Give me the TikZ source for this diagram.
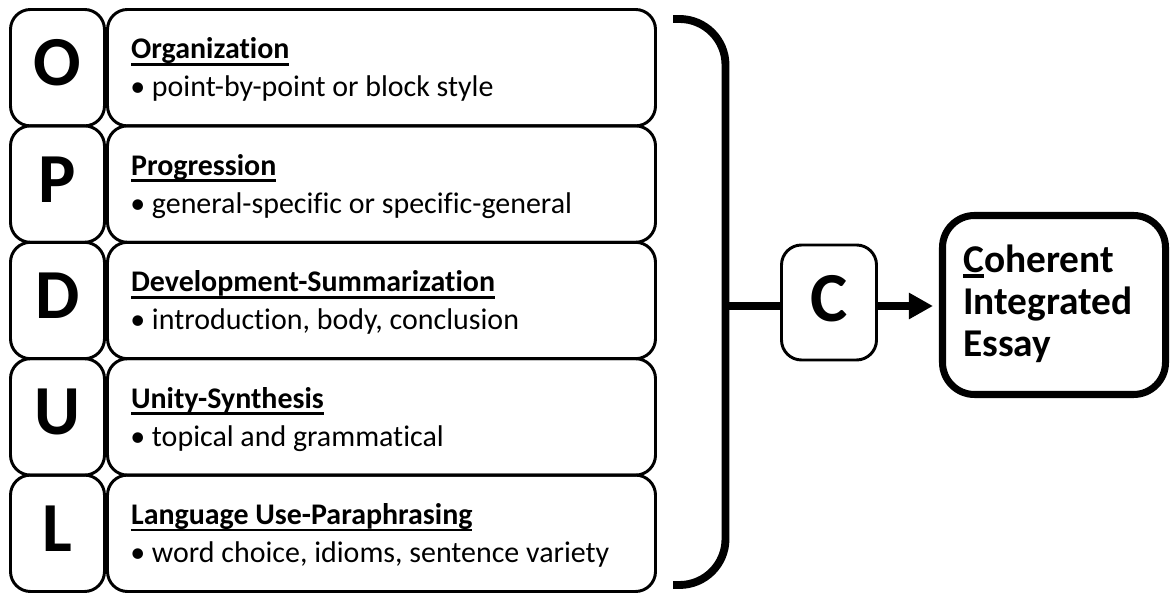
\documentclass[tikz,border=0pt]{standalone}
\usepackage{fontspec}
\setmainfont[Ligatures=CommonOff]{Carlito}
\usetikzlibrary{arrows.meta}
\newcommand{\uln}[2][-0.23em]{\setbox0\hbox{#2}\rlap{\rule[#1]{\wd0}{0.09em}}\box0}
\begin{document}
\begin{tikzpicture}[
  box/.style={draw,line width=2.1pt,rounded corners=0.5cm,inner sep=0pt},
  bigbox/.style={draw,line width=5pt,rounded corners=0.8cm,inner sep=0pt},
  key/.style={inner sep=0pt,font=\fontsize{50}{52}\selectfont\bfseries},
  ttl/.style={anchor=base west,inner sep=0pt,font=\fontsize{21.3}{24}\selectfont\bfseries},
  itm/.style={anchor=base west,inner sep=0pt,font=\fontsize{21.3}{24}\selectfont},
  thk/.style={line width=5.6pt}]
\useasboundingbox (0,0) rectangle (29.3,14.875);
\foreach \l/\t/\d [count=\i] in {O/Organization/{point-by-point or block style},
  P/Progression/{general-specific or specific-general},
  D/Development-Summarization/{introduction, body, conclusion},
  U/Unity-Synthesis/{topical and grammatical},
  L/Language Use-Paraphrasing/{word choice, idioms, sentence variety}} {
  \pgfmathsetmacro\yc{13.1825-2.91*(\i-1)}
  \node[box,minimum width=2.35cm,minimum height=2.91cm] (lbox\i) at (1.4375,\yc) {};
  \node[key] (ltr\i) at ([yshift=0.12cm]lbox\i.center) {\l};
  \node[box,minimum width=13.7cm,minimum height=2.91cm] (txt\i) at (9.5375,\yc) {};
  \node[ttl] (ttl\i) at ([xshift=0.62cm,yshift=-1.27cm]txt\i.north west) {\uln{\t}};
  \node[itm] (itm\i) at ([xshift=0.6cm,yshift=-2.22cm]txt\i.north west) {\textbullet\ \d};
}
% brace and result
\draw[line width=5.6pt,rounded corners=1.15cm] (16.825,14.4) -- (18.1375,14.4) -- (18.1375,0.25) -- (16.825,0.25);
\coordinate (mid) at (18.1375,7.225);
\node[box,minimum width=2.375cm,minimum height=2.875cm] (cbox) at (20.725,7.3125) {};
\node[key] (cltr) at ([yshift=0.1cm]cbox.center) {C};
\node[bigbox,minimum width=5.575cm,minimum height=4.475cm] (essay) at (26.35,7.25) {};
\node[anchor=base west,align=left,inner sep=0pt,font=\fontsize{28}{30.2}\selectfont\bfseries] (res) at ([xshift=0.6cm,yshift=-1.3cm]essay.west) {\uln[-0.15em]{C}oherent\\Integrated\\Essay};
\draw[thk] (mid) -- (mid -| cbox.west);
\draw[thk,-{Triangle[length=0.6cm,width=0.62cm]},shorten >=0.15cm] (mid -| cbox.east) -- (mid -| essay.west);
\end{tikzpicture}
\end{document}
